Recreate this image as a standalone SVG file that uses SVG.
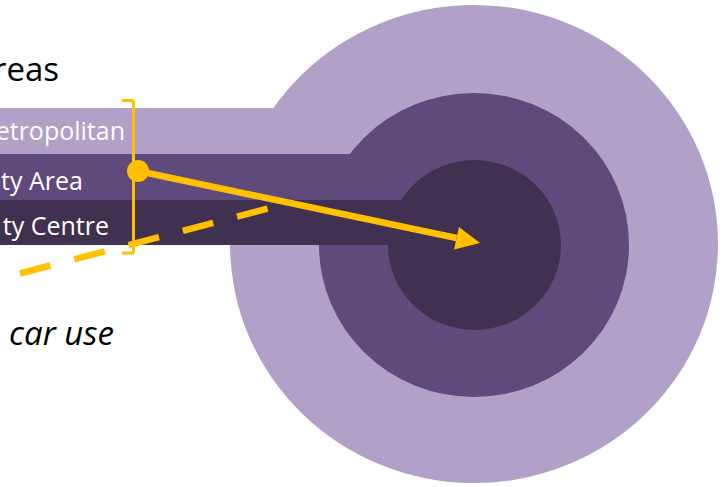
<svg xmlns="http://www.w3.org/2000/svg" width="725" height="487" viewBox="0 0 725 487">
  <style>
    .light { fill: #B1A0C7; }
    .mid { fill: #604A7B; }
    .dark { fill: #403151; }
    .band-text { font-family: "Open Sans", "Liberation Sans", sans-serif; font-size: 25px; fill: #FFFFFF; text-anchor: end; }
    .title { font-family: "Open Sans", "Liberation Sans", sans-serif; font-size: 33px; fill: #000000; text-anchor: end; }
    .yellow-line { fill: none; stroke: #FFC000; }
  </style>
  <defs>
    <marker id="arrowhead" markerWidth="4" markerHeight="4" refX="0" refY="2" orient="auto" markerUnits="strokeWidth" viewBox="0 0 4 4">
      <path d="M0,0 L4,2 L0,4 Z" fill="#FFC000"/>
    </marker>
  </defs>
  <rect width="725" height="487" fill="#FFFFFF"/>

  <g id="metropolitan">
    <ellipse class="light" cx="474" cy="244" rx="244" ry="239"/>
    <rect class="light" x="0" y="108" width="300" height="46"/>
    <text class="band-text" x="125" y="140">etropolitan</text>
  </g>

  <g id="city-area">
    <ellipse class="mid" cx="474" cy="245" rx="155" ry="152"/>
    <rect class="mid" x="0" y="154" width="360" height="46"/>
    <text class="band-text" x="83" y="190">ty Area</text>
  </g>

  <g id="city-centre">
    <ellipse class="dark" cx="474.5" cy="245" rx="86.5" ry="85"/>
    <rect class="dark" x="0" y="200" width="402" height="45"/>
    <text class="band-text" x="109" y="235">ty Centre</text>
  </g>

  <g id="title">
    <text class="title" x="59" y="81">reas</text>
  </g>

  <g id="car-use">
    <text class="title" x="114" y="345" font-style="italic">car use</text>
  </g>

  <g id="connectors">
    <path class="yellow-line" d="M122,100.5 H131.5 Q133.5,100.5 133.5,102.5 V251 Q133.5,253 131.5,253 H122" stroke-width="3"/>
    <circle cx="138" cy="171" r="11" fill="#FFC000"/>
    <line class="yellow-line" x1="138" y1="171" x2="456.5" y2="238" stroke-width="6.5"/>
    <path d="M459,227 L480,243 L454,249.5 Z" fill="#FFC000"/>
    <line class="yellow-line" x1="20" y1="273.5" x2="268" y2="208.5" stroke-width="6.5" stroke-dasharray="31.5 24.6"/>
  </g>
</svg>
